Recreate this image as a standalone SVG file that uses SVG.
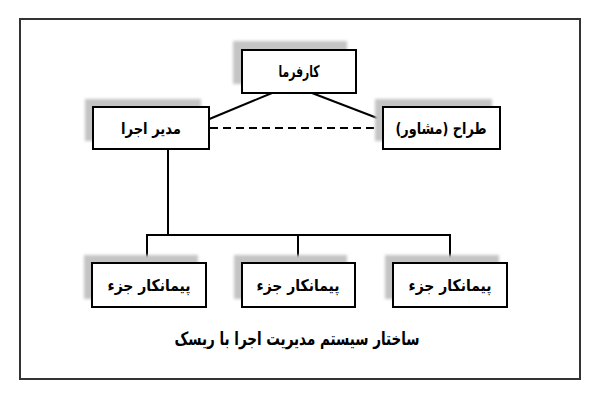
<svg xmlns="http://www.w3.org/2000/svg" width="600" height="400" viewBox="0 0 600 400">
<defs>
<filter id="blur" x="-20%" y="-40%" width="140%" height="180%"><feGaussianBlur stdDeviation="1.5"/></filter>
<style>
.shadow{fill:#c4c4c4;filter:url(#blur)}
.box{fill:#fff;stroke:#000;stroke-width:2}
.lbl{font-family:"DejaVu Sans",sans-serif;font-weight:bold;font-size:16px;fill:#000;text-anchor:middle;direction:rtl}
.ln{stroke:#000;stroke-width:2;fill:none}
</style>
</defs>
<rect x="0" y="0" width="600" height="400" fill="#fff"/>
<rect x="20" y="19" width="560" height="360" fill="none" stroke="#333" stroke-width="2"/>
<g id="connectors">
<line class="ln" x1="272" y1="93" x2="207" y2="120"/>
<line class="ln" x1="312" y1="93" x2="385" y2="121"/>
<line class="ln" x1="210" y1="128" x2="383" y2="128" stroke-dasharray="8,5"/>
<line class="ln" x1="168" y1="149" x2="168" y2="235"/>
<polyline class="ln" points="147,263 147,235 450,235 450,263"/>
<line class="ln" x1="298" y1="235" x2="298" y2="263"/>
</g>
<g id="karfarma">
<rect class="shadow" x="233" y="41" width="114" height="43"/>
<rect class="box" x="242" y="50" width="114" height="43"/>
<text class="lbl" x="299" y="77" textLength="41" lengthAdjust="spacingAndGlyphs">کارفرما</text>
</g>
<g id="modir">
<rect class="shadow" x="85" y="99" width="116" height="42"/>
<rect class="box" x="93" y="107" width="116" height="42"/>
<text class="lbl" x="151" y="134" textLength="60" lengthAdjust="spacingAndGlyphs">مدیر اجرا</text>
</g>
<g id="tarrah">
<rect class="shadow" x="375" y="99" width="117" height="42"/>
<rect class="box" x="383" y="107" width="117" height="42"/>
<text class="lbl" x="441" y="134" textLength="91" lengthAdjust="spacingAndGlyphs">طراح (مشاور)</text>
</g>
<g id="peymankar1">
<rect class="shadow" x="84" y="255" width="114" height="44"/>
<rect class="box" x="92" y="263" width="114" height="44"/>
<text class="lbl" x="149" y="291" textLength="83" lengthAdjust="spacingAndGlyphs">پیمانکار جزء</text>
</g>
<g id="peymankar2">
<rect class="shadow" x="234" y="255" width="113" height="44"/>
<rect class="box" x="242" y="263" width="113" height="44"/>
<text class="lbl" x="298" y="291" textLength="83" lengthAdjust="spacingAndGlyphs">پیمانکار جزء</text>
</g>
<g id="peymankar3">
<rect class="shadow" x="385" y="255" width="114" height="44"/>
<rect class="box" x="393" y="263" width="114" height="44"/>
<text class="lbl" x="450" y="291" textLength="83" lengthAdjust="spacingAndGlyphs">پیمانکار جزء</text>
</g>
<text class="lbl" x="297" y="345" style="font-size:18px" textLength="245" lengthAdjust="spacingAndGlyphs">ساختار سیستم مدیریت اجرا با ریسک</text>
</svg>
